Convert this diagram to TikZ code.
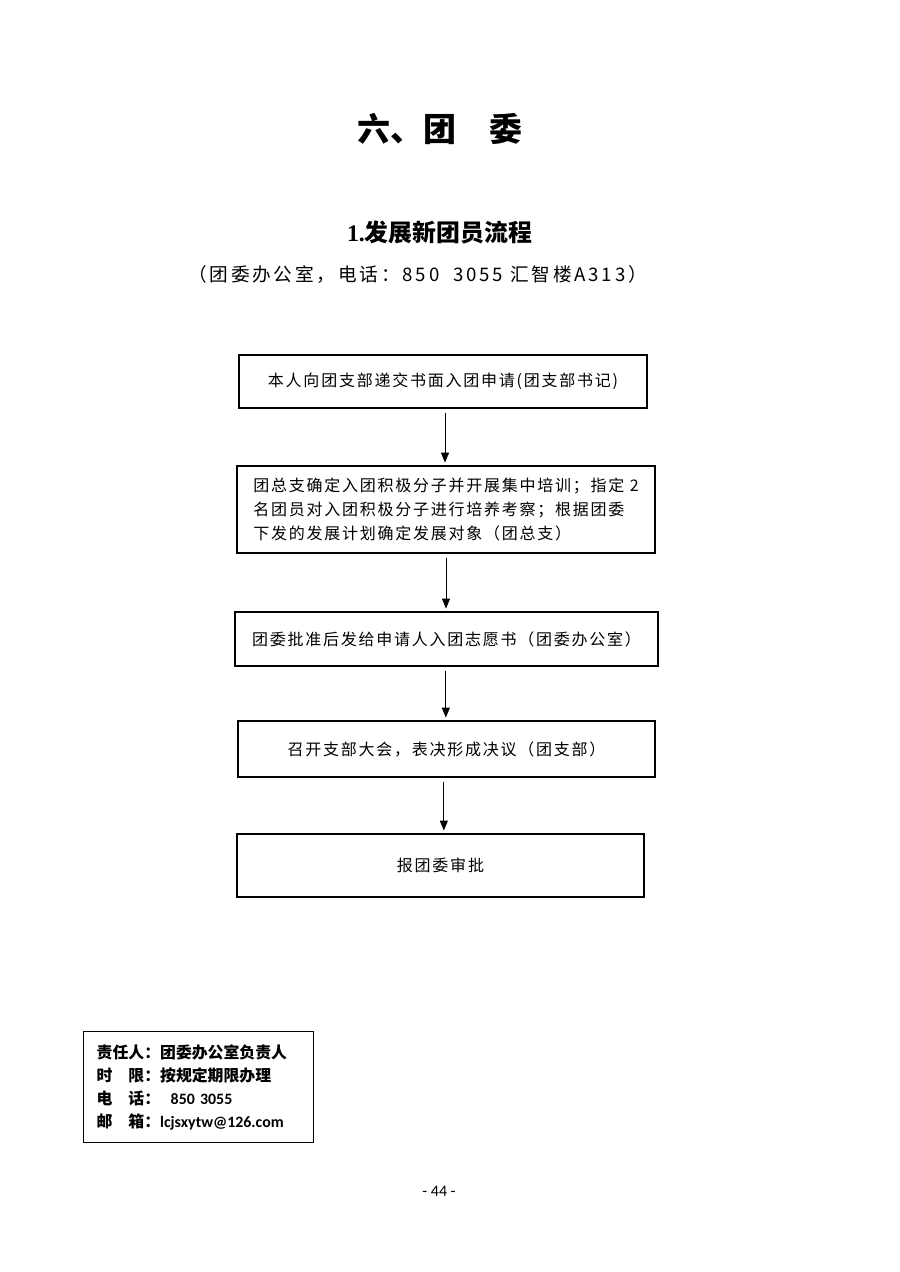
\documentclass[tikz,border=0pt]{standalone}
\usepackage{fontspec}
\usetikzlibrary{arrows.meta}
\newfontfamily\cjk{Noto Sans CJK SC}
\newfontfamily\cjkls{Noto Sans CJK SC}[LetterSpace=11]
\newfontfamily\cjkhead{Noto Sans CJK SC}[LetterSpace=15]
\newfontfamily\calib{Carlito}
\newfontfamily\tnr{Liberation Serif}

\tikzset{every picture/.style={line width=0.75pt}}
\tikzset{
  flowbox/.style={draw, line width=1.1pt, inner sep=0pt, align=center,
    font=\cjkls\fontsize{12pt}{18pt}\selectfont},
  flowarrow/.style={-{Triangle[length=7.5pt,width=6pt]}, line width=0.75pt,
    shorten <=3pt, shorten >=2pt},
  infobox/.style={draw, line width=1pt, inner xsep=9.75pt, inner ysep=0pt,
    align=left, text width=153pt, minimum height=83.25pt,
    font=\cjk\bfseries\fontsize{11.9pt}{17.25pt}\selectfont},
}

\begin{document}
\begin{tikzpicture}[x=0.75pt,y=0.75pt,yscale=-1,xscale=1]
\useasboundingbox (0,0) rectangle (900,1272);

% Text Node
\node (title) at (440,129) {\cjk\bfseries\fontsize{24.75pt}{30pt}\selectfont 六、团　委};
% Text Node
\node (subtitle) at (439.5,232) {\fontsize{17.9pt}{22pt}\selectfont{\tnr\bfseries 1.}{\cjk\bfseries 发展新团员流程}};
% Text Node
\node (office) at (417.5,275) {\cjkhead\fontsize{14pt}{16pt}\selectfont （团委办公室，电话：850\ \ 3055 汇智楼A313）};

%Shape: Rectangle
\node[flowbox, minimum width=306pt, minimum height=39.75pt] (apply) at (443,381.5) {本人向团支部递交书面入团申请(团支部书记)};
%Shape: Rectangle
\node[flowbox, minimum width=313.5pt, minimum height=65.25pt, align=left] (train) at (446,509.5) {团总支确定入团积极分子并开展集中培训；指定 2\\名团员对入团积极分子进行培养考察；根据团委\\下发的发展计划确定发展对象（团总支）};
%Shape: Rectangle
\node[flowbox, minimum width=317.25pt, minimum height=40.5pt] (approve) at (446.5,639) {团委批准后发给申请人入团志愿书（团委办公室）};
%Shape: Rectangle
\node[flowbox, minimum width=312.75pt, minimum height=42pt] (meeting) at (446.5,749) {召开支部大会，表决形成决议（团支部）};
%Shape: Rectangle
\node[flowbox, minimum width=305.25pt, minimum height=47.25pt] (report) at (440.5,865.5) {报团委审批};

%Straight Lines
\draw[flowarrow] ([xshift=1.5pt]apply.south) -- ([xshift=1.5pt]apply.south |- train.north);
\draw[flowarrow] (train.south) -- (train.south |- approve.north);
\draw[flowarrow] ([xshift=-0.5pt]approve.south) -- ([xshift=-0.5pt]approve.south |- meeting.north);
\draw[flowarrow] ([xshift=-2pt]meeting.south) -- ([xshift=-2pt]meeting.south |- report.north);

%Shape: Rectangle
\node[infobox, anchor=north west] (duty) at (83,1031) {责任人：团委办公室负责人\\时　限：按规定期限办理\\电　话：{\calib\bfseries\ \ 850 3055}\\邮　箱：{\calib\bfseries lcjsxytw@126.com}};

% Text Node
\node (page) at (439,1191) {\calib\fontsize{12pt}{14pt}\selectfont - 44 -};
\end{tikzpicture}
\end{document}
